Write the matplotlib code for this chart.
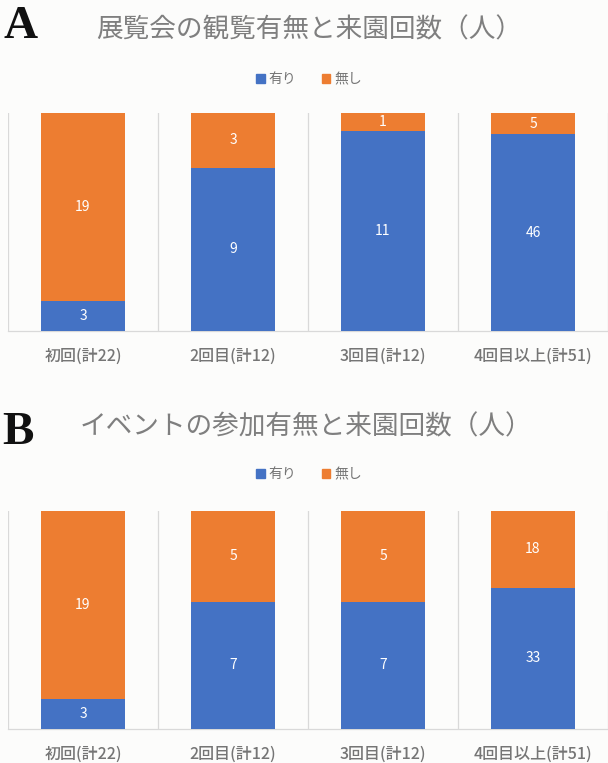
import matplotlib
matplotlib.use("Agg")
import matplotlib.pyplot as plt
from matplotlib.patches import Patch

plt.rcParams['font.family'] = ['Noto Sans CJK JP', 'DejaVu Sans']

categories = ['初回(計22)', '2回目(計12)', '3回目(計12)', '4回目以上(計51)']
series_names = ['有り', '無し']

a_title = '展覧会の観覧有無と来園回数（人）'
a_yes = [3, 9, 11, 46]
a_no = [19, 3, 1, 5]

b_title = 'イベントの参加有無と来園回数（人）'
b_yes = [3, 7, 7, 33]
b_no = [19, 5, 5, 18]

BLUE = '#4472C4'
ORANGE = '#ED7D31'
GRID = '#d9d9d9'
TEXT = '#757575'

W, H = 608, 763
fig = plt.figure(figsize=(W / 100, H / 100), dpi=100)
fig.patch.set_facecolor('#fcfcfb')


def px_rect(x0, y0, x1, y1):
    # pixel box (top-left origin) -> figure fraction rect
    return [x0 / W, 1 - y1 / H, (x1 - x0) / W, (y1 - y0) / H]


def panel(rect, letter, title, yes, no, title_xy, legend_y, letter_xy):
    ax = fig.add_axes(rect)
    ax.set_facecolor('none')
    totals = [y + n for y, n in zip(yes, no)]
    yes_frac = [y / t for y, t in zip(yes, totals)]
    no_frac = [n / t for n, t in zip(no, totals)]
    x = list(range(len(categories)))
    b1 = ax.bar(x, yes_frac, width=0.56, color=BLUE, zorder=3)
    b2 = ax.bar(x, no_frac, width=0.56, bottom=yes_frac, color=ORANGE, zorder=3)
    ax.bar_label(b1, labels=[str(v) for v in yes], label_type='center',
                 color='white', fontsize=10)
    ax.bar_label(b2, labels=[str(v) for v in no], label_type='center',
                 color='white', fontsize=10)
    ax.set_xlim(-0.5, len(categories) - 0.5)
    ax.set_ylim(0, 1)
    for gx in [i - 0.5 for i in range(len(categories) + 1)]:
        ax.axvline(gx, color=GRID, lw=0.9, zorder=1)
    for s in ['top', 'left', 'right']:
        ax.spines[s].set_visible(False)
    ax.spines['bottom'].set_color(GRID)
    ax.spines['bottom'].set_linewidth(0.9)
    ax.set_yticks([])
    ax.set_xticks(x)
    ax.set_xticklabels(categories, fontsize=11.5, color=TEXT, fontweight='medium')
    ax.tick_params(axis='x', length=0, pad=12)

    fig.text(title_xy[0] / W, 1 - title_xy[1] / H, title, ha='center', va='center',
             fontsize=19.2, color='#7f7f7f')
    fig.text(letter_xy[0] / W, 1 - letter_xy[1] / H, letter, ha='center', va='center',
             fontsize=34, fontweight='bold',
             family=['Liberation Serif', 'DejaVu Serif'], color='#111111')
    handles = [Patch(color=BLUE), Patch(color=ORANGE)]
    fig.legend(handles, series_names, loc='center',
               bbox_to_anchor=(309 / W, 1 - legend_y / H), ncol=2,
               frameon=False, fontsize=10, labelcolor=TEXT,
               handlelength=0.6, handleheight=0.6, handletextpad=0.3,
               columnspacing=1.8)
    return ax


panel(px_rect(8, 113, 608, 331), 'A', a_title, a_yes, a_no,
      title_xy=(309, 30), legend_y=79, letter_xy=(21, 27))
panel(px_rect(8, 511, 608, 729), 'B', b_title, b_yes, b_no,
      title_xy=(306, 427), legend_y=474, letter_xy=(18, 433))

fig.savefig('out.png', dpi=100, facecolor=fig.get_facecolor())
